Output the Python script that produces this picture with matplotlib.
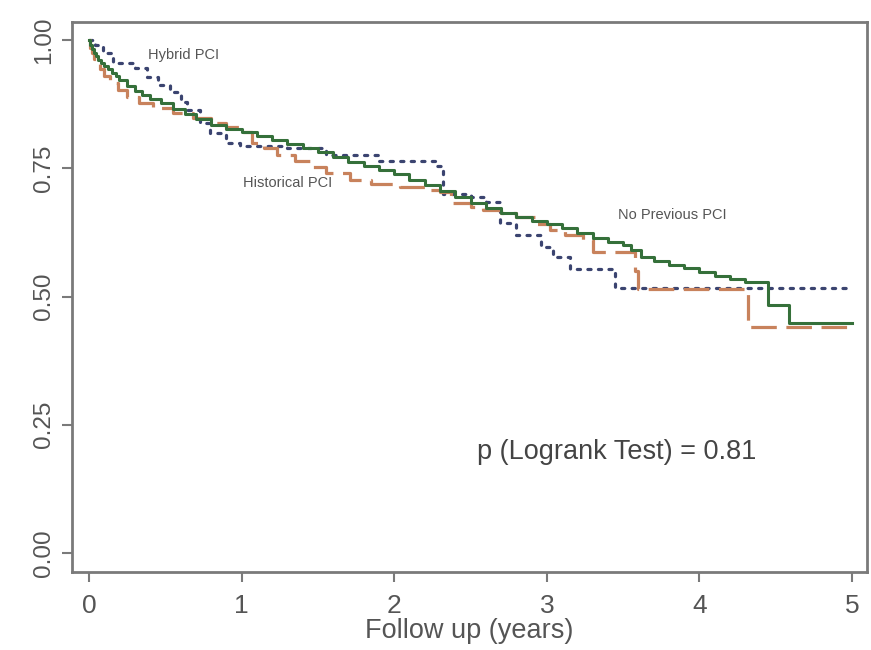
import matplotlib
matplotlib.use("Agg")
import matplotlib.pyplot as plt

plt.rcParams['font.family'] = ['Liberation Sans', 'DejaVu Sans']

# No Previous PCI (green, solid)
t_none = [0, 0.01, 0.02, 0.03, 0.045, 0.06, 0.08, 0.1, 0.125, 0.15, 0.175, 0.2, 0.25,
          0.3, 0.35, 0.4, 0.47, 0.55, 0.63, 0.7, 0.8, 0.9,
          1.0, 1.1, 1.2, 1.3, 1.4, 1.5, 1.6, 1.7, 1.8, 1.9, 2.0, 2.1, 2.2, 2.3, 2.4, 2.5,
          2.6, 2.7, 2.8, 2.9, 3.0, 3.1, 3.2, 3.3, 3.4, 3.5, 3.55, 3.62, 3.7, 3.8, 3.9,
          4.0, 4.1, 4.2, 4.3, 4.45, 4.59, 5.0]
s_none = [1.0, 0.99, 0.982, 0.975, 0.968, 0.962, 0.956, 0.95, 0.943, 0.936, 0.929, 0.922,
          0.91, 0.9, 0.892, 0.885, 0.877, 0.865, 0.855,
          0.847, 0.835, 0.826, 0.82, 0.813, 0.805, 0.797, 0.789, 0.781, 0.772, 0.762,
          0.755, 0.746, 0.738, 0.728, 0.718, 0.705, 0.695, 0.683, 0.672, 0.662, 0.655,
          0.648, 0.642, 0.633, 0.624, 0.615, 0.607, 0.60, 0.59, 0.578, 0.57, 0.562,
          0.555, 0.548, 0.54, 0.535, 0.528, 0.483, 0.448, 0.448]

# Historical PCI (orange-brown, dashed)
t_hist = [0, 0.01, 0.02, 0.035, 0.05, 0.07, 0.1, 0.14, 0.19, 0.25, 0.33, 0.42, 0.55, 0.68,
          0.8, 0.9, 1.0, 1.07, 1.15, 1.23,
          1.35, 1.45, 1.55, 1.71, 1.85, 2.04, 2.2, 2.3, 2.37, 2.5, 2.58, 2.7, 2.8, 2.92,
          3.02, 3.12, 3.24, 3.3, 3.58, 3.6, 4.32, 5.0]
s_hist = [1.0, 0.985, 0.975, 0.963, 0.953, 0.943, 0.93, 0.916, 0.902, 0.889, 0.878, 0.867,
          0.857, 0.848, 0.838, 0.83, 0.82, 0.80,
          0.79, 0.776, 0.765, 0.752, 0.74, 0.727, 0.72, 0.713, 0.708, 0.704, 0.682,
          0.675, 0.669, 0.662, 0.655, 0.642, 0.63, 0.62, 0.61, 0.587, 0.55, 0.515,
          0.44, 0.44]

# Hybrid PCI (navy, dotted)
t_hyb = [0, 0.04, 0.09, 0.16, 0.3, 0.38, 0.45, 0.53, 0.6, 0.64, 0.73, 0.79, 0.9, 0.99,
         1.3, 1.55, 1.9, 2.28, 2.32, 2.5, 2.6, 2.69, 2.8, 2.96, 3.04, 3.15, 3.45, 5.0]
s_hyb = [1.0, 0.99, 0.975, 0.955, 0.945, 0.928, 0.912, 0.899, 0.88, 0.864, 0.838, 0.819,
         0.80, 0.793, 0.79, 0.775, 0.765, 0.755, 0.70, 0.695, 0.685, 0.643, 0.62, 0.597,
         0.577, 0.553, 0.516, 0.516]

x_ticks = [0, 1, 2, 3, 4, 5]
y_ticks = [0.0, 0.25, 0.5, 0.75, 1.0]
y_ticklabels = ["0.00", "0.25", "0.50", "0.75", "1.00"]

fig = plt.figure(figsize=(8.71, 6.5), dpi=100)
ax = fig.add_axes([0.0827, 0.12, 0.9127, 0.846])

ax.plot(t_hyb, s_hyb, drawstyle='steps-post', color='#3b4470', lw=2.3,
        linestyle=(0, (1, 2.3)), dash_capstyle='round')
ax.plot(t_hist, s_hist, drawstyle='steps-post', color='#c8825c', lw=2.3,
        linestyle=(0, (8, 3)))
ax.plot(t_none, s_none, drawstyle='steps-post', color='#35703a', lw=2.2)

ax.set_xlim(-0.111, 5.098)
ax.set_ylim(-0.037, 1.035)

ax.set_xticks(x_ticks)
ax.set_xticklabels([str(v) for v in x_ticks])
ax.set_yticks(y_ticks)
ax.set_yticklabels(y_ticklabels, rotation=90, va='center')

for sp in ax.spines.values():
    sp.set_color('#7a7a7a')
    sp.set_linewidth(2.0)
ax.tick_params(axis='both', colors='#7a7a7a', length=7, width=1.5,
               labelcolor='#555555')
ax.tick_params(axis='x', pad=9, labelsize=19)
ax.tick_params(axis='y', pad=5, labelsize=17.5)

ax.set_xlabel("Follow up (years)", fontsize=19.5, color='#555555', labelpad=0)

ax.text(3.46, 0.197, "p (Logrank Test) = 0.81", fontsize=19.5, color='#444444',
        ha='center', va='center')
ax.text(0.62, 0.971, "Hybrid PCI", fontsize=10.5, color='#555555', ha='center', va='center')
ax.text(1.30, 0.721, "Historical PCI", fontsize=10.5, color='#555555', ha='center', va='center')
ax.text(3.82, 0.659, "No Previous PCI", fontsize=10.5, color='#555555', ha='center', va='center')

fig.savefig("out.png", dpi=100)
